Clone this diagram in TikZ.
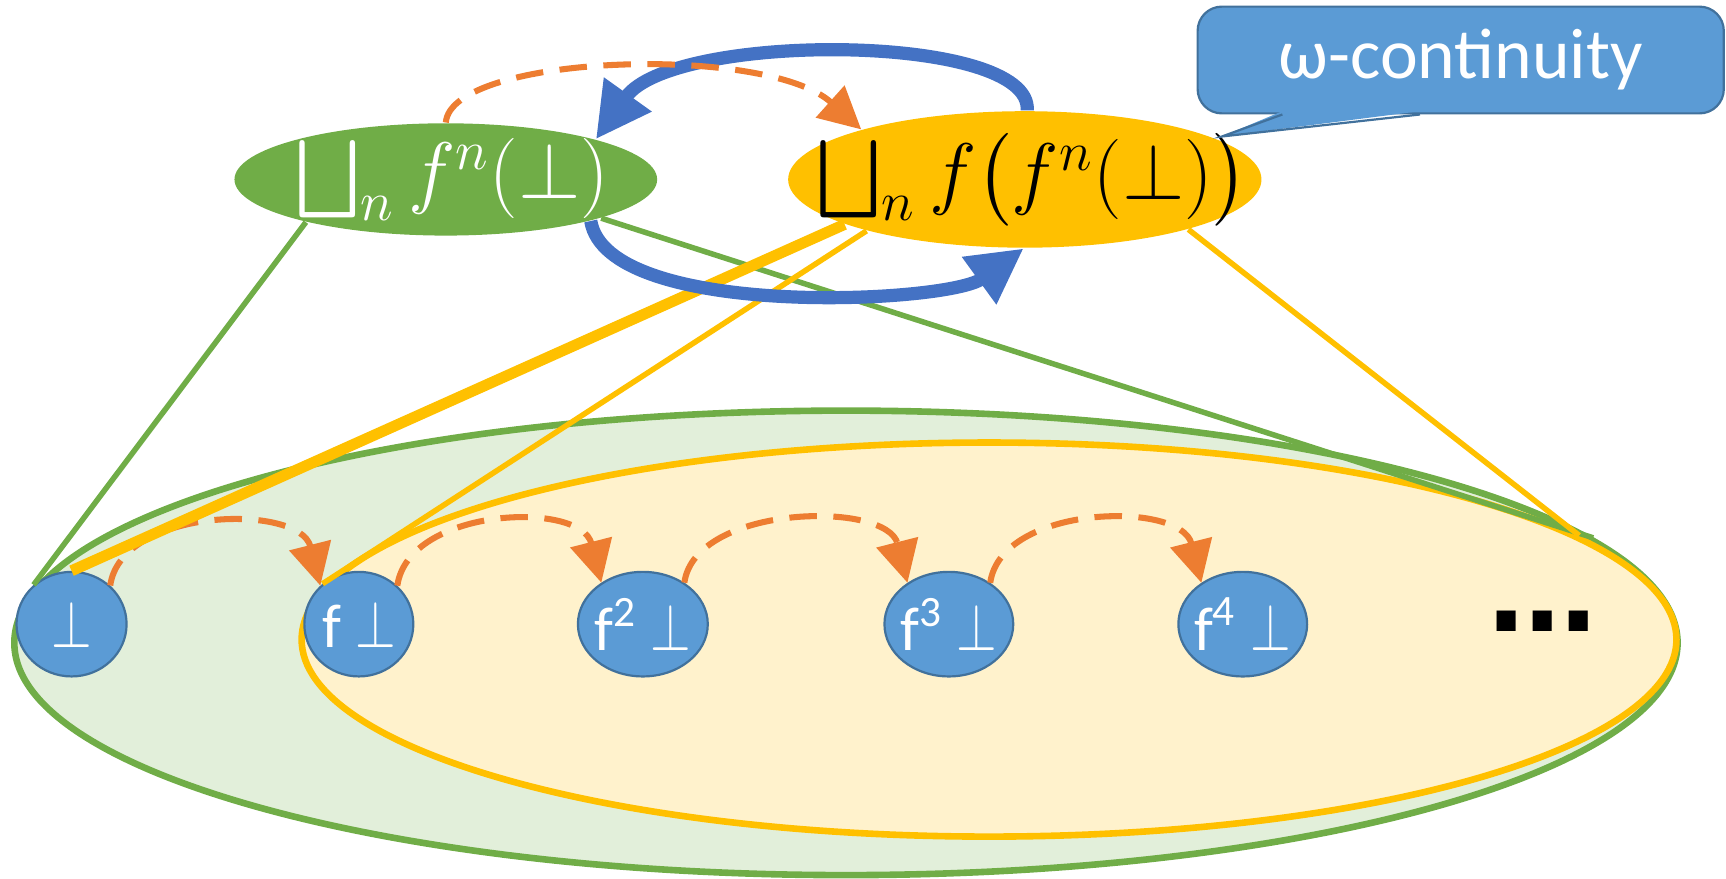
\documentclass[tikz,border=0pt]{standalone}
\usepackage{amsmath}
\usepackage{amssymb}
\usepackage{graphicx}
\usepackage[no-math]{fontspec}
\setmainfont{Carlito}
\newfontfamily\dotfont{DejaVu Sans}
\usepackage{xcolor}
\usepackage{tikz}
\usetikzlibrary{positioning,shapes.geometric,arrows.meta}

\definecolor{grn}{HTML}{70AD47}
\definecolor{grnlt}{HTML}{E2EFDA}
\definecolor{ylw}{HTML}{FFC000}
\definecolor{ylwlt}{HTML}{FFF2CC}
\definecolor{blu}{HTML}{5B9BD5}
\definecolor{bludk}{HTML}{41719C}
\definecolor{arrblu}{HTML}{4472C4}
\definecolor{org}{HTML}{ED7D31}

\newcommand{\bt}{\scalebox{.78}[1]{$\bot$}}

\begin{document}
\begin{tikzpicture}[
    x=0.1mm, y=-0.1mm,
    set/.style={ellipse, inner sep=0pt, line width=0.6mm},
    el/.style={ellipse, draw=bludk, fill=blu, line width=0.2mm, inner sep=0pt,
        inner xsep=-1.5mm, minimum height=9.5mm, text=white,
        font=\fontsize{16}{18}\selectfont},
    lim/.style={ellipse, inner sep=0pt},
    lbl/.style={font=\fontsize{20}{24}\selectfont, inner sep=0pt},
    gl/.style={draw=grn, line width=0.5mm},
    yl/.style={draw=ylw, line width=0.5mm},
    it/.style={draw=org, line width=0.55mm, dash pattern=on 2.5mm off 1.5mm,
        -{Triangle[length=3.8mm, width=3.8mm]}},
    eq/.style={draw=arrblu, line width=1.2mm, -{Triangle[length=5mm, width=5mm]}},
]
    \useasboundingbox (0,0) rectangle (1568,798);

    % ---------- the two chains ----------
    \node[set, draw=grn, fill=grnlt, minimum width=151.1mm, minimum height=42.2mm]
        (chain) at (768.5,584) {};
    \node[set, draw=ylw, fill=ylwlt, minimum width=124.9mm, minimum height=35.8mm]
        (chainf) at (898.5,581) {};

    % ---------- elements ----------
    \node[el, minimum width=10mm] (b0) at (65,567) {\bt};
    \node[el, minimum width=9.9mm, on grid, right=26.1mm of b0] (b1) {f \bt};
    \node[el, minimum width=11.8mm, on grid, right=25.8mm of b1] (b2) {f\textsuperscript{2} \bt};
    \node[el, minimum width=11.7mm, on grid, right=27.8mm of b2] (b3) {f\textsuperscript{3} \bt};
    \node[el, minimum width=11.7mm, on grid, right=26.7mm of b3] (b4) {f\textsuperscript{4} \bt};
    \node[font=\fontsize{28}{30}\selectfont\dotfont\bfseries] (more) at (1401,564) {…};

    % ---------- least upper bounds ----------
    \node[lim, fill=grn, minimum width=38.4mm, minimum height=10.2mm,
        label={[lbl, text=white, xshift=0.6mm]center:$\bigsqcup_n f^n(\bot)$}]
        (lub) at (405,163) {};
    \node[lim, fill=ylw, minimum width=43mm, minimum height=12.4mm,
        label={[lbl, xshift=0.7mm]center:$\bigsqcup_n f\bigl(f^n(\bot)\bigr)$}]
        (lubf) at (931,163) {};

    % ---------- f steps ----------
    \draw[it] (b0.45) .. controls +(10,-71) and +(-19,-75) .. (b1.135);
    \draw[it] (b1.45) .. controls +(10,-71) and +(-19,-75) .. (b2.135);
    \draw[it] (b2.45) .. controls +(10,-71) and +(-19,-75) .. (b3.135);
    \draw[it] (b3.45) .. controls +(10,-71) and +(-19,-75) .. (b4.135);

    % ---------- bounds ----------
    \draw[gl] (lub.197) -- (b0.134);
    \draw[gl] (lub.-14) -- (chain.8.5);
    \draw[yl, line width=1mm] (lubf.194) -- (b0.north);
    \draw[yl] (lubf.198) -- (b1.132);
    \draw[yl] (lubf.-17) -- (chainf.10);

    % ---------- equality ----------
    \draw[eq] (lubf.88) .. controls +(5,-71) and +(70,-98) .. (lub.15);
    \draw[eq] (lub.-16) .. controls +(15,90) and +(-69,50) .. (lubf.-91);
    \draw[it] (lub.north) .. controls +(5,-62) and +(-87,-78) .. (lubf.163);

    % ---------- callout ----------
    \node[draw=bludk, fill=blu, rounded corners=2.2mm, line width=0.2mm,
        minimum width=47.8mm, minimum height=9.7mm, text=white,
        font=\fontsize{18.5}{22}\selectfont] (tag) at (1327,54.5) {ω-continuity};
    \coordinate (tip) at (1110,124);
    \fill[blu] ([xshift=-16.2mm, yshift=0.3mm]tag.south) -- (tip)
        -- ([xshift=-3.7mm, yshift=0.3mm]tag.south) -- cycle;
    \draw[bludk, line width=0.2mm] ([xshift=-16.2mm]tag.south) -- (tip)
        -- ([xshift=-3.7mm]tag.south);
\end{tikzpicture}
\end{document}
